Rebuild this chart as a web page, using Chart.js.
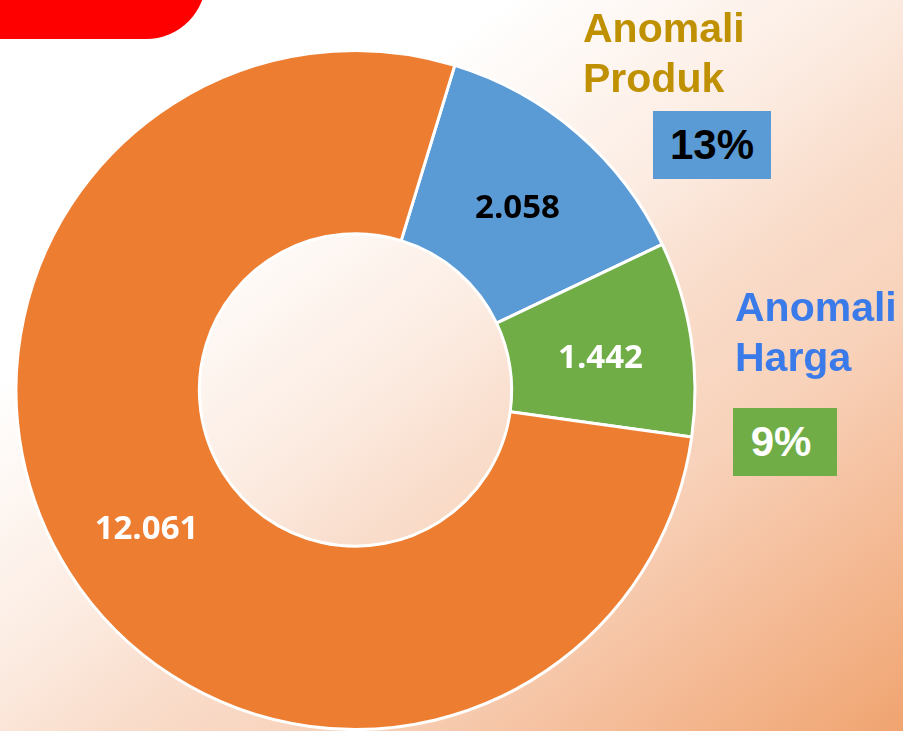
<!DOCTYPE html>
<html>
<head>
<meta charset="utf-8">
<script src="https://cdn.jsdelivr.net/npm/chart.js@4.4.1/dist/chart.umd.min.js"></script>
<style>
  html, body { margin: 0; padding: 0; }
  body {
    width: 903px; height: 731px; overflow: hidden; position: relative;
    background: linear-gradient(143deg, #ffffff 0%, #ffffff 27%, #fcece2 47%, #f9dcca 58%, #f8d2ba 70%, #f5bf9d 82%, #f0a470 100%);
    font-family: "Liberation Sans", Arial, sans-serif;
  }
  #wrap { position: absolute; left: 0; top: 0; width: 903px; height: 731px; }
  .corner {
    position: absolute; left: -10px; top: -40px; width: 216px; height: 79px;
    background: #ff0000; border-radius: 0 0 60px 0;
  }
  .side { position: absolute; font-weight: bold; font-size: 41px; line-height: 50px; }
  .badge {
    position: absolute; font-weight: bold; font-size: 42px;
    display: flex; align-items: center; justify-content: center;
  }
</style>
</head>
<body>
<div class="corner"></div>
<div id="wrap"><canvas id="chart1"></canvas></div>
<div class="side" id="lblProduk" style="left:583px; top:3px; color:#bf9000;"></div>
<div class="badge" id="pctProduk" style="left:653px; top:111px; width:118px; height:68px; background:#5b9bd5; color:#000;"></div>
<div class="side" id="lblHarga" style="left:735px; top:282px; color:#3b7be9;"></div>
<div class="badge" id="pctHarga" style="left:733px; top:408px; width:104px; height:68px; background:#70ad47; color:#fff; padding-right:8px; box-sizing:border-box;"></div>

<script>
// Data
const categories = ['Anomali Produk', 'Anomali Harga', 'Lainnya'];
const values = [2058, 1442, 12061];
const sliceColors = ['#5b9bd5', '#70ad47', '#ed7d31'];
const labelColors = ['#000000', '#ffffff', '#ffffff'];

function fmt(v) {
  return v.toLocaleString('de-DE');
}

const total = values.reduce((a, b) => a + b, 0);
function pct(i) {
  return Math.round(values[i] / total * 100) + '%';
}

// Label di sisi kanan
document.getElementById('lblProduk').innerHTML = 'Anomali<br>Produk';
document.getElementById('lblHarga').innerHTML = 'Anomali<br>Harga';
document.getElementById('pctProduk').textContent = pct(0);
document.getElementById('pctHarga').textContent = pct(1);

// Plugin label nilai di tengah tiap potongan
const valueLabels = {
  id: 'valueLabels',
  afterDatasetsDraw(chart) {
    const ctx = chart.ctx;
    const meta = chart.getDatasetMeta(0);
    ctx.save();
    ctx.font = 'bold 33px "Open Sans", sans-serif';
    ctx.textAlign = 'center';
    ctx.textBaseline = 'alphabetic';
    meta.data.forEach((arc, i) => {
      const pos = arc.tooltipPosition();
      ctx.fillStyle = labelColors[i];
      ctx.fillText(fmt(values[i]), pos.x, pos.y + 16);
    });
    ctx.restore();
  }
};

function initChart() {
  const ctx = document.getElementById('chart1').getContext('2d');
  new Chart(ctx, {
    type: 'doughnut',
    data: {
      labels: categories,
      datasets: [{
        data: values,
        backgroundColor: sliceColors,
        borderColor: '#ffffff',
        borderWidth: 3
      }]
    },
    options: {
      responsive: true,
      maintainAspectRatio: false,
      animation: false,
      rotation: 17,
      cutout: '46%',
      layout: { padding: { left: 14, right: 206, top: 49, bottom: -2 } },
      plugins: {
        legend: { display: false },
        tooltip: { enabled: false }
      }
    },
    plugins: [valueLabels]
  });
}

document.addEventListener('DOMContentLoaded', initChart);
</script>
</body>
</html>
